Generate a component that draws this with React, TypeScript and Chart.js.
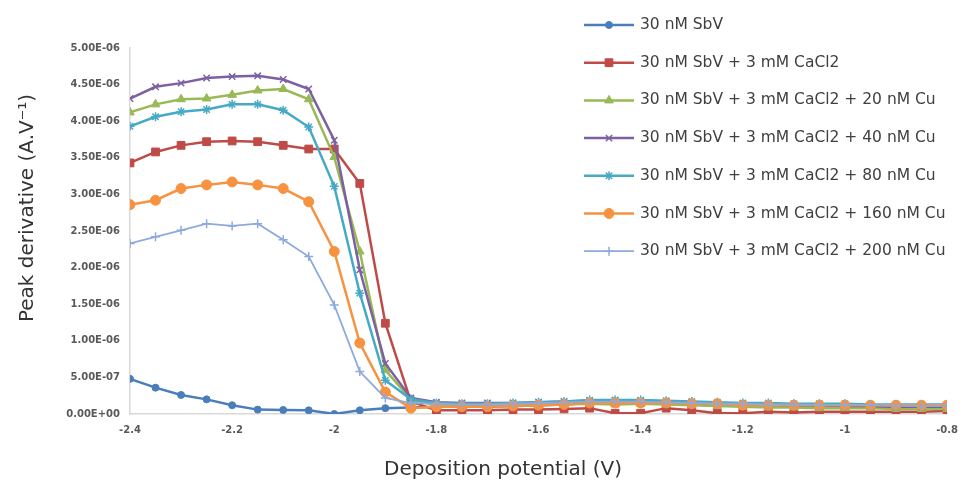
import React, { useEffect, useRef } from 'react';
import { Chart, registerables } from 'chart.js';
import { drawPoint } from 'chart.js/helpers';

Chart.register(...registerables);

// Deposition potential (V)
const potentials = [
  -2.4, -2.35, -2.3, -2.25, -2.2, -2.15, -2.1, -2.05, -2.0, -1.95, -1.9,
  -1.85, -1.8, -1.75, -1.7, -1.65, -1.6, -1.55, -1.5, -1.45, -1.4, -1.35,
  -1.3, -1.25, -1.2, -1.15, -1.1, -1.05, -1.0, -0.95, -0.9, -0.85, -0.8,
];

// Peak derivative values, in units of 1E-06 A.V-1
const sbv = [0.48, 0.36, 0.26, 0.2, 0.12, 0.06, 0.055, 0.05, 0.0, 0.05, 0.08, 0.09, 0.1, 0.1, 0.1, 0.11, 0.12, 0.13, 0.15, 0.15, 0.14, 0.14, 0.13, 0.12, 0.11, 0.1, 0.1, 0.1, 0.1, 0.1, 0.09, 0.09, 0.09];
const sbvCa = [3.43, 3.58, 3.67, 3.72, 3.73, 3.72, 3.67, 3.62, 3.62, 3.15, 1.24, 0.17, 0.05, 0.05, 0.05, 0.06, 0.06, 0.07, 0.08, 0.01, 0.01, 0.08, 0.05, 0.01, 0.01, 0.03, 0.02, 0.03, 0.03, 0.03, 0.03, 0.03, 0.04];
const sbvCaCu20 = [4.12, 4.23, 4.3, 4.31, 4.36, 4.42, 4.44, 4.3, 3.51, 2.22, 0.6, 0.2, 0.12, 0.11, 0.11, 0.11, 0.12, 0.13, 0.14, 0.13, 0.14, 0.13, 0.12, 0.11, 0.1, 0.09, 0.09, 0.08, 0.08, 0.08, 0.07, 0.07, 0.07];
const sbvCaCu40 = [4.31, 4.47, 4.52, 4.59, 4.61, 4.62, 4.57, 4.44, 3.74, 1.97, 0.69, 0.22, 0.16, 0.15, 0.15, 0.15, 0.16, 0.17, 0.18, 0.19, 0.18, 0.17, 0.16, 0.15, 0.14, 0.13, 0.12, 0.12, 0.11, 0.11, 0.1, 0.1, 0.1];
const sbvCaCu80 = [3.93, 4.06, 4.13, 4.16, 4.23, 4.23, 4.15, 3.92, 3.11, 1.65, 0.46, 0.2, 0.15, 0.14, 0.14, 0.15, 0.16, 0.17, 0.19, 0.19, 0.19, 0.18, 0.17, 0.16, 0.15, 0.15, 0.14, 0.14, 0.14, 0.13, 0.13, 0.13, 0.13];
const sbvCaCu160 = [2.86, 2.92, 3.08, 3.13, 3.17, 3.13, 3.08, 2.9, 2.22, 0.97, 0.3, 0.08, 0.1, 0.1, 0.1, 0.11, 0.12, 0.13, 0.15, 0.15, 0.15, 0.15, 0.14, 0.14, 0.12, 0.12, 0.12, 0.12, 0.12, 0.12, 0.12, 0.12, 0.12];
const sbvCaCu200 = [2.33, 2.42, 2.51, 2.6, 2.57, 2.6, 2.38, 2.15, 1.49, 0.58, 0.22, 0.15, 0.14, 0.13, 0.13, 0.14, 0.15, 0.16, 0.17, 0.17, 0.17, 0.16, 0.15, 0.14, 0.14, 0.13, 0.13, 0.12, 0.12, 0.12, 0.11, 0.11, 0.11];

const seriesLabels = [
  '30 nM SbV',
  '30 nM SbV + 3 mM CaCl2',
  '30 nM SbV + 3 mM CaCl2 + 20 nM Cu',
  '30 nM SbV + 3 mM CaCl2 + 40 nM Cu',
  '30 nM SbV + 3 mM CaCl2 + 80 nM Cu',
  '30 nM SbV + 3 mM CaCl2 + 160 nM Cu',
  '30 nM SbV + 3 mM CaCl2 + 200 nM Cu',
];
const seriesValues = [sbv, sbvCa, sbvCaCu20, sbvCaCu40, sbvCaCu80, sbvCaCu160, sbvCaCu200];
const seriesColors = ['#4A7EBB', '#BE4B48', '#98B954', '#7D60A0', '#46AAC5', '#F69240', '#8EA9DB'];
const seriesMarkers = ['circle', 'rect', 'triangle', 'crossRot', 'star', 'circle', 'cross'];
const markerSizes = [3.5, 5.5, 5, 4.5, 4.5, 5, 4.5];
const lineWidths = [2.5, 2.5, 2.5, 2.5, 2.5, 2.5, 1.8];

const xTitle = 'Deposition potential (V)';
const yTitle = 'Peak derivative (A.V\u207B\u00B9)';

function sci(v: number): string {
  const real = v * 1e-6;
  if (Math.abs(real) < 1e-12) return '0.00E+00';
  const exp = Math.floor(Math.log10(Math.abs(real)) + 1e-9);
  const mant = real / Math.pow(10, exp);
  const sign = exp < 0 ? '-' : '+';
  return mant.toFixed(2) + 'E' + sign + String(Math.abs(exp)).padStart(2, '0');
}

const overlayPlugin = {
  id: 'overlay',
  afterDraw(chart: any) {
    const ctx: CanvasRenderingContext2D = chart.ctx;
    ctx.save();
    // legend
    chart.data.datasets.forEach((ds: any, i: number) => {
      const y = 25 + i * 37.7;
      ctx.strokeStyle = ds.borderColor;
      ctx.lineWidth = ds.borderWidth;
      ctx.beginPath();
      ctx.moveTo(584, y);
      ctx.lineTo(634, y);
      ctx.stroke();
      ctx.fillStyle = ds.pointBackgroundColor;
      ctx.strokeStyle = ds.pointBorderColor;
      ctx.lineWidth = ds.pointStyle === 'cross' || ds.pointStyle === 'crossRot' || ds.pointStyle === 'star' ? 1.5 : 1;
      drawPoint(ctx, { pointStyle: ds.pointStyle, radius: ds.pointRadius, borderWidth: 1, rotation: 0 } as any, 609, y);
      ctx.fillStyle = '#404040';
      ctx.font = '15.5px "DejaVu Sans"';
      ctx.textBaseline = 'middle';
      ctx.textAlign = 'left';
      ctx.fillText(ds.label, 640, y);
    });
    // axis titles
    ctx.fillStyle = '#333333';
    ctx.font = '20px "DejaVu Sans"';
    ctx.textAlign = 'center';
    ctx.textBaseline = 'middle';
    ctx.fillText(xTitle, 503, 470);
    ctx.translate(28, 208);
    ctx.rotate(-Math.PI / 2);
    ctx.fillText(yTitle, 0, 0);
    ctx.restore();
  },
};

export default function App() {
  const ref = useRef<HTMLCanvasElement>(null);
  useEffect(() => {
    const datasets = seriesLabels.map((label, i) => ({
      label,
      data: potentials.map((x, j) => ({ x, y: seriesValues[i][j] })),
      borderColor: seriesColors[i],
      backgroundColor: seriesColors[i],
      pointBackgroundColor: seriesColors[i],
      pointBorderColor: seriesColors[i],
      borderWidth: lineWidths[i],
      pointStyle: seriesMarkers[i],
      pointRadius: markerSizes[i],
      pointBorderWidth: seriesMarkers[i] === 'circle' || seriesMarkers[i] === 'rect' || seriesMarkers[i] === 'triangle' ? 1 : 1.5,
      tension: 0,
      order: -i,
    }));
    const chart = new Chart(ref.current as HTMLCanvasElement, {
      type: 'line',
      data: { datasets } as any,
      options: {
        animation: false,
        responsive: true,
        maintainAspectRatio: false,
        layout: { padding: { left: 0, right: 15, top: 48, bottom: 0 } },
        plugins: { legend: { display: false }, tooltip: { enabled: false } },
        scales: {
          x: {
            type: 'linear',
            min: -2.4,
            max: -0.8,
            afterFit: (s: any) => { s.height = 71; },
            grid: { display: false, drawTicks: false },
            border: { display: true, color: '#D9D9D9', width: 1.5 },
            ticks: {
              stepSize: 0.2,
              padding: 10,
              color: '#595959',
              font: { family: '"DejaVu Sans"', size: 10, weight: 'bold' },
              callback: (v: any) => String(Math.round(Number(v) * 10) / 10),
            },
          },
          y: {
            type: 'linear',
            min: 0,
            max: 5,
            afterFit: (s: any) => { s.width = 130; },
            grid: { display: false, drawTicks: false },
            border: { display: true, color: '#D9D9D9', width: 1.5 },
            ticks: {
              stepSize: 0.5,
              padding: 10,
              color: '#595959',
              font: { family: '"DejaVu Sans"', size: 10, weight: 'bold' },
              callback: (v: any) => sci(Number(v)),
            },
          },
        },
      } as any,
      plugins: [overlayPlugin],
    });
    return () => chart.destroy();
  }, []);
  return (
    <div style={{ position: 'fixed', left: 0, top: 0, width: 968, height: 485, background: '#ffffff' }}>
      <canvas ref={ref} />
    </div>
  );
}
